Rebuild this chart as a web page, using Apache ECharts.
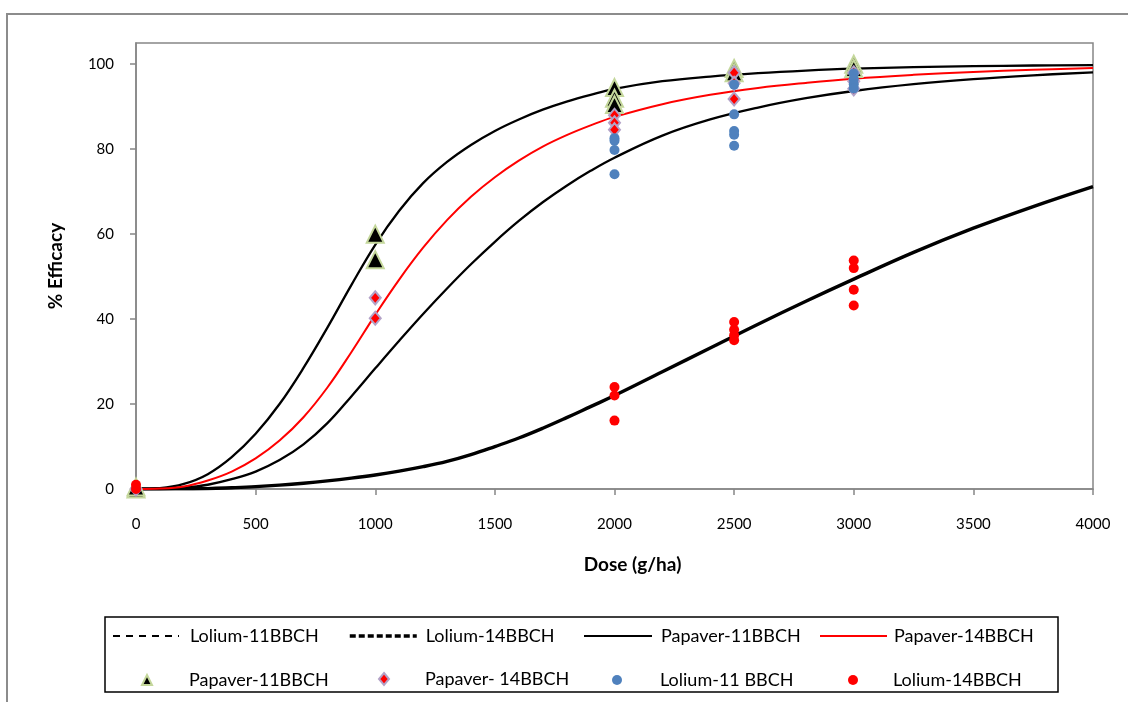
<!DOCTYPE html>
<html><head><meta charset="utf-8">
<script src="https://cdn.jsdelivr.net/npm/echarts@6/dist/echarts.min.js"></script>
<style>html,body{margin:0;padding:0;background:#fff}#c{width:1128px;height:702px}</style>
</head><body><div id="c"></div>
<script>
// Dose values along the fitted curves (g/ha)
const curveDose = [0,100,200,300,400,500,600,700,800,900,1000,1100,1200,1300,1400,1500,1600,1700,1800,1900,2000,2200,2400,2600,2800,3000,3250,3500,3750,4000];
// Fitted curves (% efficacy)
const lolium11Curve  = [0,0.05,0.3,1,2.3,4.1,6.8,10.5,15.5,21.8,28.4,34.9,41.2,47.2,52.9,58.2,63.1,67.5,71.4,74.9,78,83.2,87,89.8,92,93.7,95.3,96.5,97.4,98.1];
const lolium14Curve  = [0,0,0.05,0.1,0.3,0.55,0.9,1.35,1.9,2.55,3.3,4.2,5.25,6.5,8.1,10,12,14.3,16.8,19.4,22,27.6,33.2,38.8,44.2,49.4,55.7,61.4,66.5,71.2];
const papaver11Curve = [0,0.2,1.2,3.5,7.5,13,20,28.5,38,48,57.5,65.5,72,77,81,84.3,87,89.3,91.2,92.8,94.2,96,97.1,97.9,98.5,98.95,99.3,99.55,99.7,99.8];
const papaver14Curve = [0,0.1,0.6,2,4.1,7.2,11.4,16.9,23.9,32.2,41,49.3,56.8,63.3,68.8,73.4,77.3,80.6,83.3,85.6,87.6,90.6,92.8,94.4,95.6,96.6,97.5,98.2,98.7,99.1];
// Observed points [dose, % efficacy]
const papaver11Pts = [[0,0],[0,0.5],[1000,60],[1000,54],[2000,94.5],[2000,92],[2000,90.5],[2500,99],[2500,98],[3000,100],[3000,99]];
const papaver14Pts = [[0,0],[1000,45],[1000,40.2],[2000,88],[2000,86.2],[2000,84.6],[2500,98],[2500,95.5],[2500,91.8],[3000,98],[3000,96],[3000,94.2]];
const lolium11Pts  = [[0,0],[2000,82.6],[2000,82],[2000,79.8],[2000,74.1],[2500,95.2],[2500,88.2],[2500,84.3],[2500,83.4],[2500,80.8],[3000,97.8],[3000,96.5],[3000,95.3],[3000,94.3]];
const lolium14Pts  = [[0,1],[0,0],[2000,24],[2000,22],[2000,16.1],[2500,39.3],[2500,37.5],[2500,36.2],[2500,35],[3000,53.8],[3000,52],[3000,46.9],[3000,43.2]];
// Axis ticks
const xTicks = [0,500,1000,1500,2000,2500,3000,3500,4000];
const yTicks = [0,20,40,60,80,100];

const FONT = 'Lato';
const pair = (xs, ys) => xs.map((x, i) => [x, ys[i]]);

const chart = echarts.init(document.getElementById('c'), null, {renderer: 'canvas'});

function lg(name, left, yc, w, h, pad, extra) {
  return Object.assign({
    data: [name], left: left, top: yc - h / 2, itemWidth: w, itemHeight: h,
    padding: 0, selectedMode: false, orient: 'horizontal',
    textStyle: {fontFamily: FONT, fontSize: 18, color: '#000', padding: [0, 0, 0, pad]}
  }, extra || {});
}

const axisGray = '#868686';
const noSym = {opacity: 0};
const option = {
  backgroundColor: '#fff',
  animation: false,
  grid: {left: 136, top: 43, width: 957, height: 446, show: true, borderColor: axisGray, borderWidth: 1.5, backgroundColor: 'transparent'},
  xAxis: {
    type: 'value', min: 0, max: 4000, interval: 500,
    name: 'Dose (g/ha)', nameLocation: 'middle', nameGap: 66,
    nameTextStyle: {fontFamily: FONT, fontSize: 19, fontWeight: 'bold', color: '#000', padding: [0, 0, 0, 36]},
    axisLine: {show: true, lineStyle: {color: axisGray, width: 1.5}},
    axisTick: {show: true, length: 6, customValues: xTicks, lineStyle: {color: axisGray, width: 1.5}},
    axisLabel: {fontFamily: FONT, fontSize: 15, color: '#000', margin: 28, customValues: xTicks,
                formatter: v => String(v)},
    splitLine: {show: false}
  },
  yAxis: {
    type: 'value', min: 0, max: 105,
    name: '% Efficacy', nameLocation: 'middle', nameGap: 71, nameRotate: 90,
    nameTextStyle: {fontFamily: FONT, fontSize: 19, fontWeight: 'bold', color: '#000'},
    axisLine: {show: true, lineStyle: {color: axisGray, width: 1.5}},
    axisTick: {show: true, length: 6, customValues: yTicks, lineStyle: {color: axisGray, width: 1.5}},
    axisLabel: {fontFamily: FONT, fontSize: 15, color: '#000', margin: 22, customValues: yTicks,
                formatter: v => String(v)},
    splitLine: {show: false}
  },
  legend: [
    lg('Lolium-11BBCH', 112, 634, 66, 14, 6, {itemStyle: noSym, lineStyle: {type: [7, 6], width: 2}}),
    lg('Lolium-14BBCH', 348, 634, 67, 14, 4, {itemStyle: noSym, lineStyle: {type: [6, 3], width: 3.5}}),
    lg('Papaver-11BBCH', 583, 634, 68, 14, 4, {itemStyle: noSym}),
    lg('Papaver-14BBCH', 819, 634, 67, 14, 2, {itemStyle: noSym}),
    lg('Papaver-11BBCH ', 141, 676, 10, 10, 32),
    lg('Papaver- 14BBCH', 378, 676, 10, 12, 31),
    lg('Lolium-11 BBCH', 612, 676, 10, 10, 33),
    lg('Lolium-14BBCH ', 848, 676, 10, 10, 30)
  ],
  graphic: [
    {type: 'rect', silent: true, z: -1, shape: {x: 7, y: 14, width: 1200, height: 720},
     style: {fill: 'none', stroke: '#8c8c8c', lineWidth: 2}},
    {type: 'rect', silent: true, shape: {x: 105, y: 617, width: 953, height: 75},
     style: {fill: 'none', stroke: '#000', lineWidth: 1.5}}
  ],
  series: [
    {name: 'Lolium-11BBCH', type: 'line', data: pair(curveDose, lolium11Curve), smooth: 0.4, symbol: 'none',
     lineStyle: {color: '#000', width: 2.3}, itemStyle: {color: '#000'}, z: 2},
    {name: 'Lolium-14BBCH', type: 'line', data: pair(curveDose, lolium14Curve), smooth: 0.4, symbol: 'none',
     lineStyle: {color: '#000', width: 3.4}, itemStyle: {color: '#000'}, z: 2},
    {name: 'Papaver-11BBCH', type: 'line', data: pair(curveDose, papaver11Curve), smooth: 0.4, symbol: 'none',
     lineStyle: {color: '#000', width: 2.3}, itemStyle: {color: '#000'}, z: 2},
    {name: 'Papaver-14BBCH', type: 'line', data: pair(curveDose, papaver14Curve), smooth: 0.4, symbol: 'none',
     lineStyle: {color: '#ff0000', width: 2}, itemStyle: {color: '#ff0000'}, z: 2},
    {name: 'Papaver-11BBCH ', type: 'scatter', data: papaver11Pts, symbol: 'triangle', symbolSize: 17,
     itemStyle: {color: '#000', borderColor: '#c4d79b', borderWidth: 2, opacity: 1}, z: 3},
    {name: 'Papaver- 14BBCH', type: 'scatter', data: papaver14Pts, symbol: 'diamond', symbolSize: [11, 13],
     itemStyle: {color: '#ff0000', borderColor: '#b3a2c7', borderWidth: 2, opacity: 1}, z: 4},
    {name: 'Lolium-11 BBCH', type: 'scatter', data: lolium11Pts, symbol: 'circle', symbolSize: 10,
     itemStyle: {color: '#4f81bd', opacity: 1}, z: 5},
    {name: 'Lolium-14BBCH ', type: 'scatter', data: lolium14Pts, symbol: 'circle', symbolSize: 10,
     itemStyle: {color: '#ff0000', opacity: 1}, z: 6}
  ]
};
chart.setOption(option);
</script>
</body></html>
